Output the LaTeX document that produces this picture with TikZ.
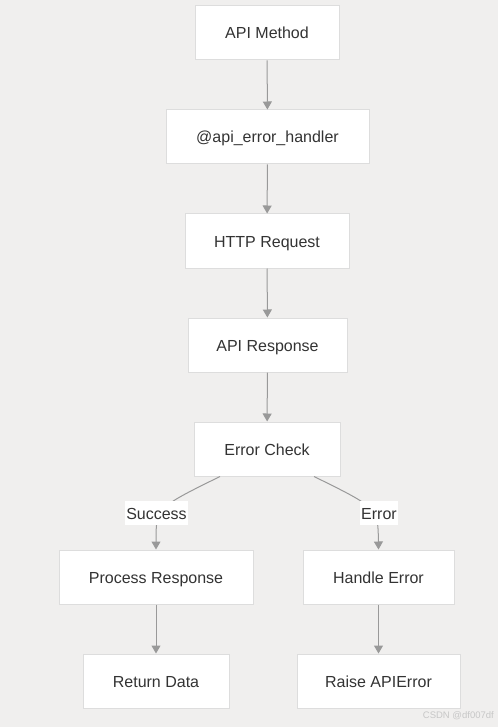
\documentclass[tikz,border=0pt]{standalone}
\usepackage{fontspec}
\setmainfont{Liberation Sans}
\usetikzlibrary{arrows.meta}
\definecolor{bg}{HTML}{F0EFEE}
\definecolor{bd}{HTML}{DDDDDD}
\definecolor{ln}{HTML}{999999}
\definecolor{tx}{HTML}{333333}
\begin{document}
\begin{tikzpicture}[x=1pt,y=-1pt,
  box/.style={draw=bd, line width=1pt, fill=white, minimum height=54pt, inner sep=0pt, text height=13.5pt, text depth=1.5pt, text=tx, font=\fontsize{16}{19}\selectfont},
  arr/.style={draw=ln, line width=1pt, -{Triangle[length=8pt,width=9pt]}, color=ln},
  lbl/.style={fill=white, text=tx, inner sep=1pt, text height=13.5pt, text depth=1.5pt, font=\fontsize{16}{19}\selectfont, minimum height=24pt}]
\fill[bg] (0,0) rectangle (498,727);
\useasboundingbox (0,0) rectangle (498,727);
\node[box, minimum width=144pt] (am) at (267,33) {API Method};
\node[box, minimum width=203pt] (eh) at (267.5,137) {@api\_error\_handler};
\node[box, minimum width=164pt] (hr) at (267,241) {HTTP Request};
\node[box, minimum width=159pt] (ar) at (267.5,345) {API Response};
\node[box, minimum width=146pt] (ec) at (267,449) {Error Check};
\node[box, minimum width=194pt] (pr) at (156,577) {Process Response};
\node[box, minimum width=151pt] (he) at (378.5,577) {Handle Error};
\node[box, minimum width=146pt] (rd) at (156,681) {Return Data};
\node[box, minimum width=163pt] (ra) at (378.5,681) {Raise APIError};
\draw[arr] (am) -- (eh);
\draw[arr] (eh) -- (hr);
\draw[arr] (hr) -- (ar);
\draw[arr] (ar) -- (ec);
\draw[arr] ([xshift=-47pt]ec.south) .. controls (156,508) .. (pr.north);
\draw[arr] ([xshift=47pt]ec.south) .. controls (378,508) .. (he.north);
\draw[arr] (pr) -- (rd);
\draw[arr] (he) -- (ra);
\node[lbl] (ls) at (156.5,513) {Success};
\node[lbl] (le) at (379,513) {Error};
\node[text=black!22, font=\fontsize{9.5}{11}\selectfont, anchor=east, inner sep=0pt] (wm) at (494,716) {CSDN @df007df};
\end{tikzpicture}
\end{document}
